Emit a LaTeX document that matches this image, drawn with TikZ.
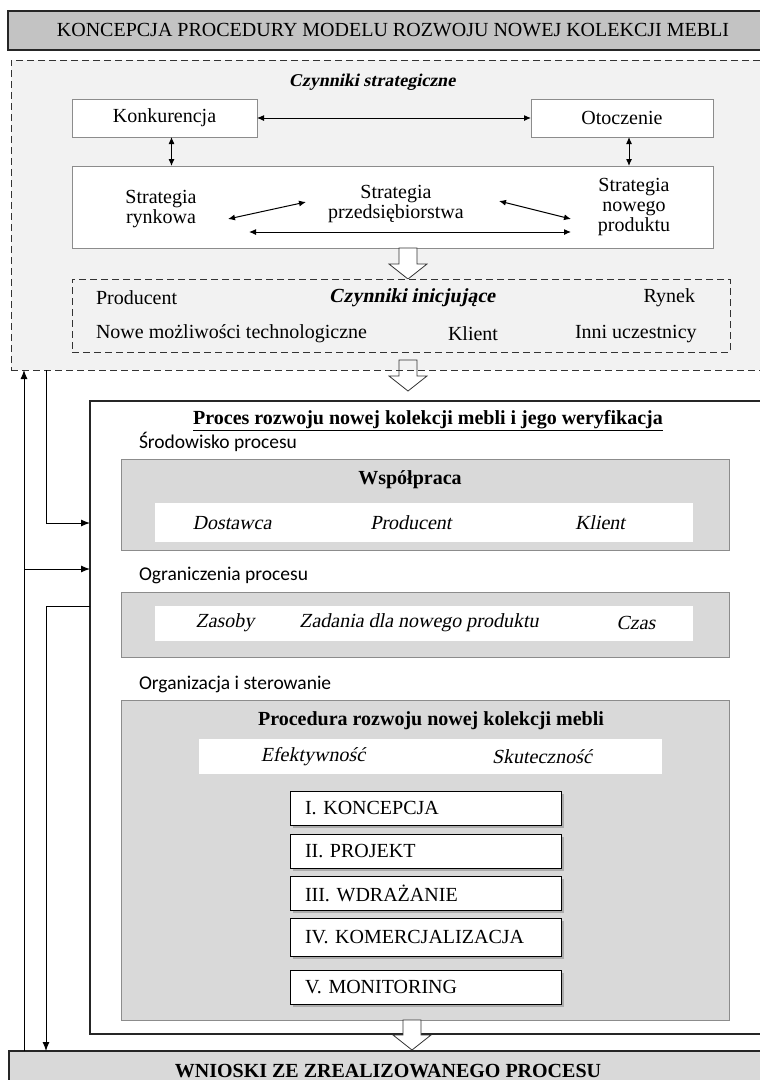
\documentclass[tikz,border=0pt]{standalone}
\usepackage{fontspec}
\setmainfont{Liberation Serif}[ItalicFont={Liberation Serif}, ItalicFeatures={FakeSlant=0.2},
  BoldItalicFont={Liberation Serif Bold}, BoldItalicFeatures={FakeSlant=0.2}]
\newfontfamily\calibri{Carlito}
\usetikzlibrary{positioning,arrows.meta,shadows}
\definecolor{szaryjasny}{HTML}{F2F2F2}
\definecolor{szary}{HTML}{D9D9D9}
\definecolor{szaryciemny}{HTML}{C3C3C3}
\definecolor{ramka}{HTML}{8C8C8C}

% gruba pusta strzalka: x srodka, poczatek, grot
\newcommand{\grubastrzalka}[4][white]{%
  \draw[line width=0.8pt, draw=black!80, fill=#1] (#2-9,#3) -- (#2+9,#3) -- (#2+9,#4-15)
    -- (#2+19,#4-15) -- (#2,#4) -- (#2-19,#4-15) -- (#2-9,#4-15) -- cycle;}

\begin{document}
\begin{tikzpicture}[x=1pt, y=-1pt,
    every node/.style={font=\fontsize{20}{20}\selectfont, inner sep=0pt, outer sep=0pt},
    pudelko/.style={draw=ramka, fill=white, line width=0.8pt, anchor=north west},
    szarepole/.style={draw=ramka, fill=szary, line width=0.8pt, anchor=north west},
    pasek/.style={fill=white, anchor=north west},
    przerywana/.style={draw=black!80, line width=0.9pt, dash pattern=on 7pt off 4pt, anchor=north west},
    kursywa/.style={font=\fontsize{20}{20}\selectfont\itshape},
    pogrubiona/.style={font=\fontsize{20}{20}\selectfont\bfseries},
    etap/.style={draw=black, fill=white, line width=1pt, anchor=north west, minimum width=271pt,
      text width=241pt, align=left, inner xsep=15pt,
      drop shadow={shadow xshift=3pt, shadow yshift=-3pt, fill=black!50}},
    podpis/.style={font=\calibri\fontsize{19.5}{20}\selectfont, anchor=west},
    dwustronna/.style={{Latex[length=7pt,width=6pt]}-{Latex[length=7pt,width=6pt]}, line width=1pt},
    strzalka/.style={-{Latex[length=9pt,width=7pt]}, line width=1pt}]
    \clip (0,0) rectangle (760,1080);

    % Tytul
    \node[draw=black!85, line width=1.2pt, fill=szaryciemny, anchor=north west,
      minimum width=770pt, minimum height=39pt] (tytul) at (8,11)
      {KONCEPCJA PROCEDURY MODELU ROZWOJU NOWEJ KOLEKCJI MEBLI};

    % Czynniki strategiczne (ramka przerywana)
    \node[przerywana, fill=szaryjasny, minimum width=764pt, minimum height=310pt] (czynniki) at (11,60) {};
    \node[font=\fontsize{18}{18}\selectfont\bfseries\itshape] (czynStrat) at (372,82) {Czynniki strategiczne};

    \node[pudelko, minimum width=185pt, minimum height=38pt] (konk) at (72,99) {};
    \node at (konk.center) {Konkurencja};
    \node[pudelko, minimum width=182pt, minimum height=38pt] (otocz) at (531,99) {};
    \node at (otocz.center) {Otoczenie};
    \draw[dwustronna] (konk) -- (otocz);

    % Strategie
    \node[pudelko, minimum width=641pt, minimum height=82pt] (strat) at (72,166) {};
    \draw[dwustronna] ([xshift=7pt]konk.south) -- ([xshift=7pt]konk.south |- strat.north);
    \draw[dwustronna] ([xshift=7pt]otocz.south) -- ([xshift=7pt]otocz.south |- strat.north);
    \node[align=center] (rynk) at (161,209) {Strategia\\rynkowa};
    \node[align=center] (przeds) at (396,204) {Strategia\\przedsiębiorstwa};
    \node[align=center] (nowprod) at (634,207) {Strategia\\nowego\\produktu};
    \coordinate (r1) at (228,219);
    \coordinate (r2) at (306,202);
    \coordinate (p1) at (499,201);
    \coordinate (p2) at (571,219);
    \draw[dwustronna] (r1) -- (r2);
    \draw[dwustronna] (p1) -- (p2);
    \draw[dwustronna] (249,232) -- (571,232);

    \grubastrzalka{408}{248}{279}

    % Czynniki inicjujace
    \node[przerywana, fill=szaryjasny, minimum width=658pt, minimum height=73pt] (inicj) at (72,279) {};
    \node[anchor=west] (prod) at (96,298) {Producent};
    \node[font=\fontsize{20}{20}\selectfont\bfseries\itshape] (czynInicj) at (412,298) {Czynniki inicjujące};
    \node[anchor=east] (rynek) at (695,298) {Rynek};
    \node[anchor=west] (tech) at (96,334) {Nowe możliwości technologiczne};
    \node (klient) at (473,334) {Klient};
    \node[anchor=west] (inni) at (575,334) {Inni uczestnicy};

    \grubastrzalka[none]{408}{360}{391}

    % Proces rozwoju
    \node[draw=black!85, line width=1.2pt, fill=white, anchor=north west,
      minimum width=690pt, minimum height=633pt] (proces) at (90,401) {};
    \node[pogrubiona] (procTyt) at (428,421)
      {\underline{Proces rozwoju nowej kolekcji mebli i jego weryfikacja}};

    \node[podpis] (srod) at (139,442) {Środowisko procesu};
    \node[szarepole, minimum width=608pt, minimum height=91pt] (wspol) at (121,459) {};
    \node[pogrubiona] (wspolTyt) at (410,480) {Współpraca};
    \node[pasek, minimum width=538pt, minimum height=39pt] (pasek1) at (155,503) {};
    \node[kursywa] (dost) at (232,523) {Dostawca};
    \node[kursywa] (prodW) at (411,523) {Producent};
    \node[kursywa] (klientW) at (600,523) {Klient};

    \node[podpis] (ogr) at (139,575) {Ograniczenia procesu};
    \node[szarepole, minimum width=608pt, minimum height=65pt] (ogran) at (121,592) {};
    \node[pasek, minimum width=538pt, minimum height=35pt] (pasek2) at (155,606) {};
    \node[kursywa] (zas) at (225,623) {Zasoby};
    \node[kursywa] (zad) at (419,623) {Zadania dla nowego produktu};
    \node[kursywa] (czas) at (636,623) {Czas};

    \node[podpis] (org) at (139,684) {Organizacja i sterowanie};
    \node[szarepole, minimum width=608pt, minimum height=320pt] (organ) at (121,700) {};
    \node[pogrubiona] (procedura) at (431,721) {Procedura rozwoju nowej kolekcji mebli};
    \node[pasek, minimum width=463pt, minimum height=35pt] (pasek3) at (199,739) {};
    \node[kursywa] (efekt) at (313,757) {Efektywność};
    \node[kursywa] (skut) at (542,757) {Skuteczność};

    % Etapy
    \node[etap, minimum height=34pt] (etap1) at (290,791) {I. KONCEPCJA};
    \node[etap, minimum height=34pt] (etap2) at (290,834) {II. PROJEKT};
    \node[etap, minimum height=34pt] (etap3) at (290,876) {III. WDRAŻANIE};
    \node[etap, minimum height=38pt] (etap4) at (290,918) {IV. KOMERCJALIZACJA};
    \node[etap, minimum height=34pt] (etap5) at (290,970) {V. MONITORING};

    \grubastrzalka{412}{1020}{1050}

    % Wnioski
    \node[draw=black!85, line width=1.2pt, fill=szary, anchor=north west,
      minimum width=758pt, minimum height=40pt, font=\fontsize{20}{20}\selectfont\bfseries] (wnioski) at (9,1051)
      {WNIOSKI ZE ZREALIZOWANEGO PROCESU};

    % Sprzezenia zwrotne
    \coordinate (lewa) at (24,0);
    \coordinate (prawa) at (46,0);
    \draw[strzalka] (lewa |- wnioski.north) -- (lewa |- czynniki.south);
    \draw[strzalka] (lewa |- 0,569) -- (proces.west |- 0,569);
    \draw[strzalka] (prawa |- czynniki.south) |- (proces.west |- 0,523);
    \draw[strzalka] (proces.west |- 0,606) -| (prawa |- wnioski.north);
\end{tikzpicture}
\end{document}
